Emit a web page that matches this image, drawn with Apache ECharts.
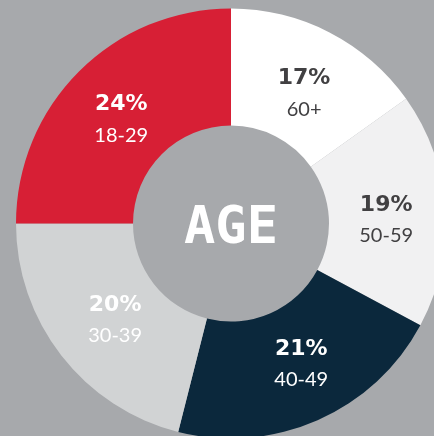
<!DOCTYPE html>
<html>
<head>
<meta charset="utf-8">
<script src="https://cdn.jsdelivr.net/npm/echarts@6/dist/echarts.min.js"></script>
<style>
html,body{margin:0;padding:0;background:#a7a9ac;}
#chart{width:434px;height:436px;}
</style>
</head>
<body>
<div id="chart"></div>
<script>
// Age groups, clockwise from 12 o'clock
const categories = ['60+', '50-59', '40-49', '30-39', '18-29'];
// Slice sizes as drawn in the picture (share of the ring)
const sliceValues = [15.15, 17.7, 21.1, 21.05, 25.0];
// Percent labels printed on the slices
const pctLabels = ['17%', '19%', '21%', '20%', '24%'];
const sliceColors = ['#ffffff', '#f1f1f2', '#0b283c', '#d1d3d4', '#d71f35'];
const pctColors = ['#414042', '#414042', '#ffffff', '#ffffff', '#ffffff'];
const catColors = ['#414042', '#414042', '#ffffff', '#ffffff', '#ffffff'];
const centerTitle = 'AGE';
// small label nudges (layout only)
const nudgeX = [0, -4, 6, 10, 3];
const nudgeY = [12, 7, -5, -1, 9];

const chart = echarts.init(document.getElementById('chart'), null, {renderer: 'canvas'});

const data = categories.map((c, i) => ({
  name: c,
  value: sliceValues[i],
  itemStyle: {color: sliceColors[i]},
  label: {
    formatter: '{p|' + pctLabels[i] + '}\n{c|' + c + '}',
    rich: {
      p: {fontFamily: 'DejaVu Sans', fontWeight: 'bold', fontSize: 22, color: pctColors[i], lineHeight: 31, align: 'center'},
      c: {fontFamily: 'Lato', fontSize: 20, color: catColors[i], lineHeight: 31, align: 'center'}
    }
  }
}));

chart.setOption({
  backgroundColor: '#a7a9ac',
  animation: false,
  series: [{
    type: 'pie',
    center: [231, 223.5],
    radius: [98, 215],
    startAngle: 90,
    clockwise: true,
    avoidLabelOverlap: false,
    itemStyle: {borderWidth: 0},
    emphasis: {disabled: true},
    label: {show: true, position: 'inside'},
    labelLine: {show: false},
    labelLayout: function (params) {
      const i = params.dataIndex;
      return {dx: nudgeX[i], dy: nudgeY[i]};
    },
    data: data
  }],
  graphic: [{
    type: 'text',
    x: 231,
    y: 229,
    z: 100,
    style: {
      text: centerTitle,
      textAlign: 'center',
      textVerticalAlign: 'middle',
      font: 'bold 52px "DejaVu Sans Mono"',
      fill: '#ffffff'
    }
  }]
});
</script>
</body>
</html>
